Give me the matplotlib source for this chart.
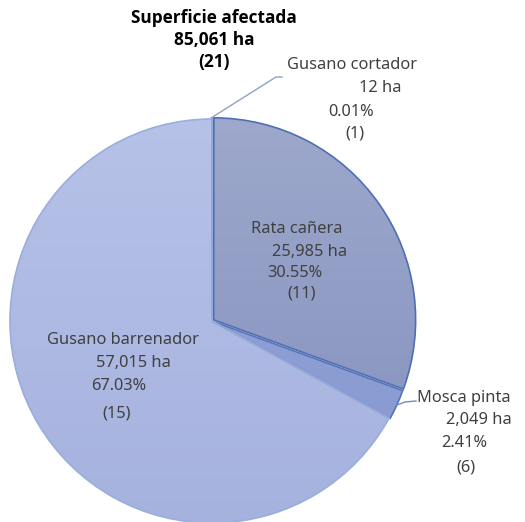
import matplotlib
matplotlib.use("Agg")
import matplotlib.pyplot as plt
import numpy as np
from matplotlib.colors import to_rgb

categories = ["Gusano cortador", "Rata cañera", "Mosca pinta", "Gusano barrenador"]
hectares = [12, 25985, 2049, 57015]
percent_labels = ["0.01%", "30.55%", "2.41%", "67.03%"]
ha_labels = ["12 ha", "25,985 ha", "2,049 ha", "57,015 ha"]
counts = ["(1)", "(11)", "(6)", "(15)"]
title_lines = ["Superficie afectada", "85,061 ha", "(21)"]

top_colors = ["#a6b2dc", "#9ea8cc", "#95a5da", "#b7c2e8"]
bot_colors = ["#a6b2dc", "#8290be", "#8698d0", "#a5b2de"]
edges = ["#7f95cc", "#4f6fb3", "#5573b8", "#9aaedc"]
txt = "#404040"
font = "Noto Sans"

W, H = 525, 522
fig = plt.figure(figsize=(W / 100, H / 100), dpi=100)
ax = fig.add_axes([0, 0, 1, 1])

cx, cy, R = 212, H - 321, 202
wedges, _ = ax.pie(hectares, startangle=90, counterclock=False,
                   colors=top_colors, center=(cx, cy), radius=R,
                   explode=[0, 2, 1, 0],
                   wedgeprops=dict(linewidth=1.2))

for w, e, c1, c2 in zip(wedges, edges, top_colors, bot_colors):
    w.set_edgecolor(e)
    a, b = np.array(to_rgb(c1)), np.array(to_rgb(c2))
    t = np.linspace(0, 1, 256)[:, None]
    grad = (a * (1 - t) + b * t)[:, None, :]
    im = ax.imshow(grad, extent=[cx - R - 5, cx + R + 5, cy - R - 5, cy + R + 5],
                   origin="upper", aspect="auto", zorder=w.get_zorder() + 0.1,
                   interpolation="bilinear")
    im.set_clip_path(w)
    w.set_facecolor("none")
    w.set_zorder(w.get_zorder() + 0.2)

ax.set_xlim(0, W)
ax.set_ylim(0, H)
ax.set_aspect("auto")
ax.axis("off")

def T(x, y, s, size=11.8, bold=False, ha="left"):
    ax.text(x, H - y, s, fontsize=size,
            fontweight="bold" if bold else "normal",
            family="Open Sans" if bold else font,
            color="black" if bold else txt, ha=ha, va="center", zorder=5)

# title
for i, s in enumerate(title_lines):
    T(214, 18 + i * 22, s, size=12.4, bold=True, ha="center")

# Gusano cortador
T(287, 65, categories[0]); T(359, 88, ha_labels[0])
T(328, 112, percent_labels[0]); T(345, 134, counts[0])
ax.plot([211, 276, 282], [H - 118, H - 77, H - 77], color="#8fa2c8", lw=1, zorder=5)

# Rata cañera
T(251, 229, categories[1]); T(272, 252, ha_labels[1])
T(267, 273, percent_labels[1]); T(287, 294, counts[1])

# Mosca pinta
T(417, 398, categories[2]); T(446, 420, ha_labels[2])
T(441, 443, percent_labels[2]); T(456, 467, counts[2])
ax.plot([397, 405, 416], [H - 405, H - 402, H - 401], color="#6f8cc4", lw=1, zorder=5)

# Gusano barrenador
T(47, 340, categories[3]); T(96, 363, ha_labels[3])
T(91, 386, percent_labels[3]); T(102, 413, counts[3])

fig.savefig("out.png", dpi=100)
